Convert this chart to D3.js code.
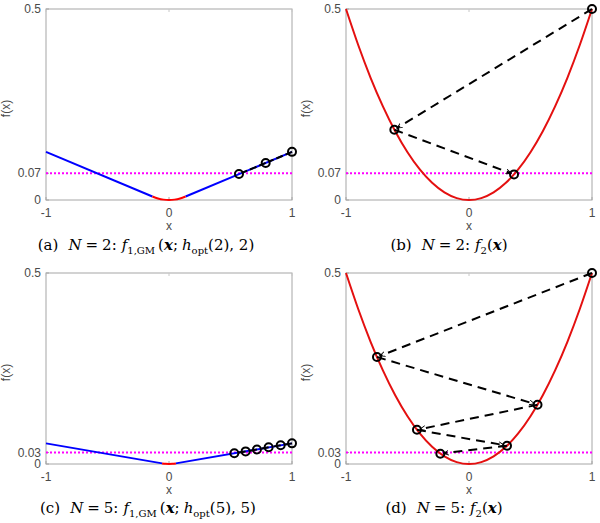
<!DOCTYPE html>
<html><head><meta charset="utf-8">
<script src="https://cdn.jsdelivr.net/npm/d3@7"></script>
<style>body{margin:0;background:#fff}svg{display:block}</style>
</head><body>
<svg id="c" width="600" height="523"></svg>
<script>
// ---- data ----
const xTicks = [-1, 0, 1];
const yTicksTop = [0, 0.07, 0.5];
const yTickLabelsTop = ["0", "0.07", "0.5"];
const yTicksBottom = [0, 0.03, 0.5];
const yTickLabelsBottom = ["0", "0.03", "0.5"];

const parabolaX = [-1,-0.9,-0.8,-0.7,-0.6,-0.5,-0.4,-0.3,-0.2,-0.1,0,0.1,0.2,0.3,0.4,0.5,0.6,0.7,0.8,0.9,1];
const parabolaY = [0.5,0.405,0.32,0.245,0.18,0.125,0.08,0.045,0.02,0.005,0,0.005,0.02,0.045,0.08,0.125,0.18,0.245,0.32,0.405,0.5];

// panel a: smoothed surrogate f1,GM with h=0.135
const aBlueLeftX = [-1, -0.135], aBlueLeftY = [0.126, 0.0091];
const aBlueRightX = [0.135, 1], aBlueRightY = [0.0091, 0.126];
const aRedX = [-0.135,-0.09,-0.045,0,0.045,0.09,0.135];
const aRedY = [0.0091,0.0041,0.001,0,0.001,0.0041,0.0091];
const aIterX = [1, 0.786, 0.569];
const aIterY = [0.126, 0.097, 0.068];

// panel c: h=0.056
const cBlueLeftX = [-1, -0.056], cBlueLeftY = [0.054, 0.0016];
const cBlueRightX = [0.056, 1], cBlueRightY = [0.0016, 0.054];
const cRedX = [-0.056, -0.028, 0, 0.028, 0.056];
const cRedY = [0.0016, 0.0004, 0, 0.0004, 0.0016];
const cIterX = [1, 0.908, 0.81, 0.715, 0.623, 0.531];
const cIterY = [0.054, 0.049, 0.044, 0.038, 0.033, 0.028];

// panel b, d iterates on f2
const bIterX = [1, -0.607, 0.366];
const bIterY = [0.5, 0.184, 0.067];
const dIterX = [1, -0.748, 0.557, -0.423, 0.309, -0.233];
const dIterY = [0.5, 0.28, 0.155, 0.0895, 0.048, 0.027];

const thresholdTop = 0.07, thresholdBottom = 0.03;

// ---- drawing ----
const svg = d3.select("#c");
const defs = svg.append("defs");
defs.append("marker").attr("id","arr").attr("viewBox","0 -5 10 10")
  .attr("refX",9).attr("refY",0).attr("markerWidth",6).attr("markerHeight",6)
  .attr("markerUnits","userSpaceOnUse").attr("orient","auto")
  .append("path").attr("d","M0,-4L9,0L0,4").attr("fill","none")
  .attr("stroke","#000").attr("stroke-width",1.5);

const zip = (xs, ys) => xs.map((x,i)=>[x, ys[i]]);
const SANS = "Liberation Sans, Arial, sans-serif";

function panel(o) {
  const g = svg.append("g");
  const x = d3.scaleLinear().domain([-1,1]).range([o.left, o.left+246]);
  const y = d3.scaleLinear().domain([0,0.5]).range([o.top+191, o.top]);
  const line = d3.line().x(d=>x(d[0])).y(d=>y(d[1]));
  const cid = "clip"+o.id;
  defs.append("clipPath").attr("id",cid).append("rect")
    .attr("x",o.left-6).attr("y",o.top-6).attr("width",258).attr("height",203);

  g.append("rect").attr("x",x(-1)).attr("y",y(0.5)).attr("width",x(1)-x(-1)).attr("height",y(0)-y(0.5))
    .attr("fill","none").attr("stroke","#a6a6a6").attr("stroke-width",1);
  xTicks.forEach(t=>{
    g.append("line").attr("x1",x(t)).attr("x2",x(t)).attr("y1",y(0)).attr("y2",y(0)-3).attr("stroke","#a6a6a6");
    g.append("line").attr("x1",x(t)).attr("x2",x(t)).attr("y1",y(0.5)).attr("y2",y(0.5)+3).attr("stroke","#c8c8c8");
    g.append("text").attr("x",x(t)).attr("y",y(0)+17).attr("text-anchor","middle")
      .attr("font-family",SANS).attr("font-size",12).attr("fill","#4a4a4a").text(t);
  });
  o.yTicks.forEach((t,i)=>{
    g.append("line").attr("x1",x(-1)).attr("x2",x(-1)+3).attr("y1",y(t)).attr("y2",y(t)).attr("stroke","#a6a6a6");
    g.append("text").attr("x",x(-1)-5).attr("y",y(t)+4).attr("text-anchor","end")
      .attr("font-family",SANS).attr("font-size",12).attr("fill","#4a4a4a").text(o.yLabels[i]);
  });
  g.append("text").attr("x",x(0)).attr("y",y(0)+30).attr("text-anchor","middle")
    .attr("font-family",SANS).attr("font-size",12).attr("fill","#4a4a4a").text("x");
  g.append("text").attr("transform",`translate(${o.left-36},${(y(0)+y(0.5))/2+4}) rotate(-90)`).attr("text-anchor","middle")
    .attr("font-family",SANS).attr("font-size",12).attr("fill","#4a4a4a").text("f(x)");

  const p = g.append("g").attr("clip-path",`url(#${cid})`);
  p.append("path").attr("d",line([[-1,o.thr],[1,o.thr]])).attr("stroke","#ff00ff")
    .attr("stroke-width",2).attr("stroke-dasharray","2,2").attr("fill","none");
  if (o.kind === "f1") {
    p.append("path").attr("d",line(zip(o.blX,o.blY))).attr("stroke","#0000ff").attr("stroke-width",2).attr("fill","none");
    p.append("path").attr("d",line(zip(o.brX,o.brY))).attr("stroke","#0000ff").attr("stroke-width",2).attr("fill","none");
    p.append("path").attr("d",line.curve(d3.curveNatural)(zip(o.rX,o.rY))).attr("stroke","#ff0000").attr("stroke-width",2).attr("fill","none");
    line.curve(d3.curveLinear);
  } else {
    p.append("path").attr("d",line.curve(d3.curveNatural)(zip(parabolaX,parabolaY))).attr("stroke","#e41010").attr("stroke-width",2).attr("fill","none");
    line.curve(d3.curveLinear);
  }
  const pts = zip(o.itX, o.itY);
  for (let i=0;i<pts.length-1;i++){
    const a = pts[i], b = pts[i+1];
    const dx = x(b[0])-x(a[0]), dy = y(b[1])-y(a[1]);
    const L = Math.hypot(dx,dy);
    const ex = x(b[0]) - dx/L*3, ey = y(b[1]) - dy/L*3;
    const seg = p.append("line").attr("x1",x(a[0])).attr("y1",y(a[1])).attr("x2",ex).attr("y2",ey)
      .attr("stroke","#000").attr("stroke-width",2)
      .attr("stroke-dasharray", o.kind==="f1" ? "7,3" : "9,6");
    if (o.kind !== "f1") seg.attr("marker-end","url(#arr)");
  }
  p.selectAll("circle.it").data(pts).enter().append("circle")
    .attr("cx",d=>x(d[0])).attr("cy",d=>y(d[1])).attr("r",4)
    .attr("fill","none").attr("stroke","#000").attr("stroke-width",2);

  const cap = g.append("text").attr("x",o.capX).attr("y",o.capY).attr("text-anchor","middle")
    .attr("font-family","DejaVu Serif, serif").attr("font-size",15).attr("fill","#000");
  o.caption.forEach(s=>{
    const t = cap.append("tspan").text(s.t);
    if (s.i) t.attr("font-style","italic");
    if (s.b) t.attr("font-weight","bold");
    let dy = 0;
    if (s.sub) { t.attr("font-size",10); dy += 4; }
    if (s.up) dy -= 4;
    if (dy) t.attr("dy",dy);
    if (s.dx) t.attr("dx",s.dx);
  });
}

const capA = [{t:"(a)"},{t:"N",i:1,dx:10},{t:"=",dx:4},{t:"2:",dx:4},{t:"f",i:1,dx:5},{t:"1,GM",sub:1},{t:"(",up:1,dx:3},{t:"x",i:1,b:1},{t:";"},{t:"h",i:1,dx:4},{t:"opt",sub:1},{t:"(2), 2)",up:1}];
const capB = [{t:"(b)"},{t:"N",i:1,dx:10},{t:"=",dx:4},{t:"2:",dx:4},{t:"f",i:1,dx:5},{t:"2",sub:1},{t:"(",up:1},{t:"x",i:1,b:1},{t:")"}];
const capC = [{t:"(c)"},{t:"N",i:1,dx:10},{t:"=",dx:4},{t:"5:",dx:4},{t:"f",i:1,dx:5},{t:"1,GM",sub:1},{t:"(",up:1,dx:3},{t:"x",i:1,b:1},{t:";"},{t:"h",i:1,dx:4},{t:"opt",sub:1},{t:"(5), 5)",up:1}];
const capD = [{t:"(d)"},{t:"N",i:1,dx:10},{t:"=",dx:4},{t:"5:",dx:4},{t:"f",i:1,dx:5},{t:"2",sub:1},{t:"(",up:1},{t:"x",i:1,b:1},{t:")"}];

panel({id:"a",left:46,top:9,kind:"f1",thr:thresholdTop,yTicks:yTicksTop,yLabels:yTickLabelsTop,
  blX:aBlueLeftX,blY:aBlueLeftY,brX:aBlueRightX,brY:aBlueRightY,rX:aRedX,rY:aRedY,itX:aIterX,itY:aIterY,
  caption:capA,capX:146,capY:250});
panel({id:"b",left:346,top:9,kind:"f2",thr:thresholdTop,yTicks:yTicksTop,yLabels:yTickLabelsTop,
  itX:bIterX,itY:bIterY,caption:capB,capX:449,capY:250});
panel({id:"c",left:46,top:273,kind:"f1",thr:thresholdBottom,yTicks:yTicksBottom,yLabels:yTickLabelsBottom,
  blX:cBlueLeftX,blY:cBlueLeftY,brX:cBlueRightX,brY:cBlueRightY,rX:cRedX,rY:cRedY,itX:cIterX,itY:cIterY,
  caption:capC,capX:148,capY:513});
panel({id:"d",left:346,top:273,kind:"f2",thr:thresholdBottom,yTicks:yTicksBottom,yLabels:yTickLabelsBottom,
  itX:dIterX,itY:dIterY,caption:capD,capX:444,capY:513});
</script>
</body></html>
